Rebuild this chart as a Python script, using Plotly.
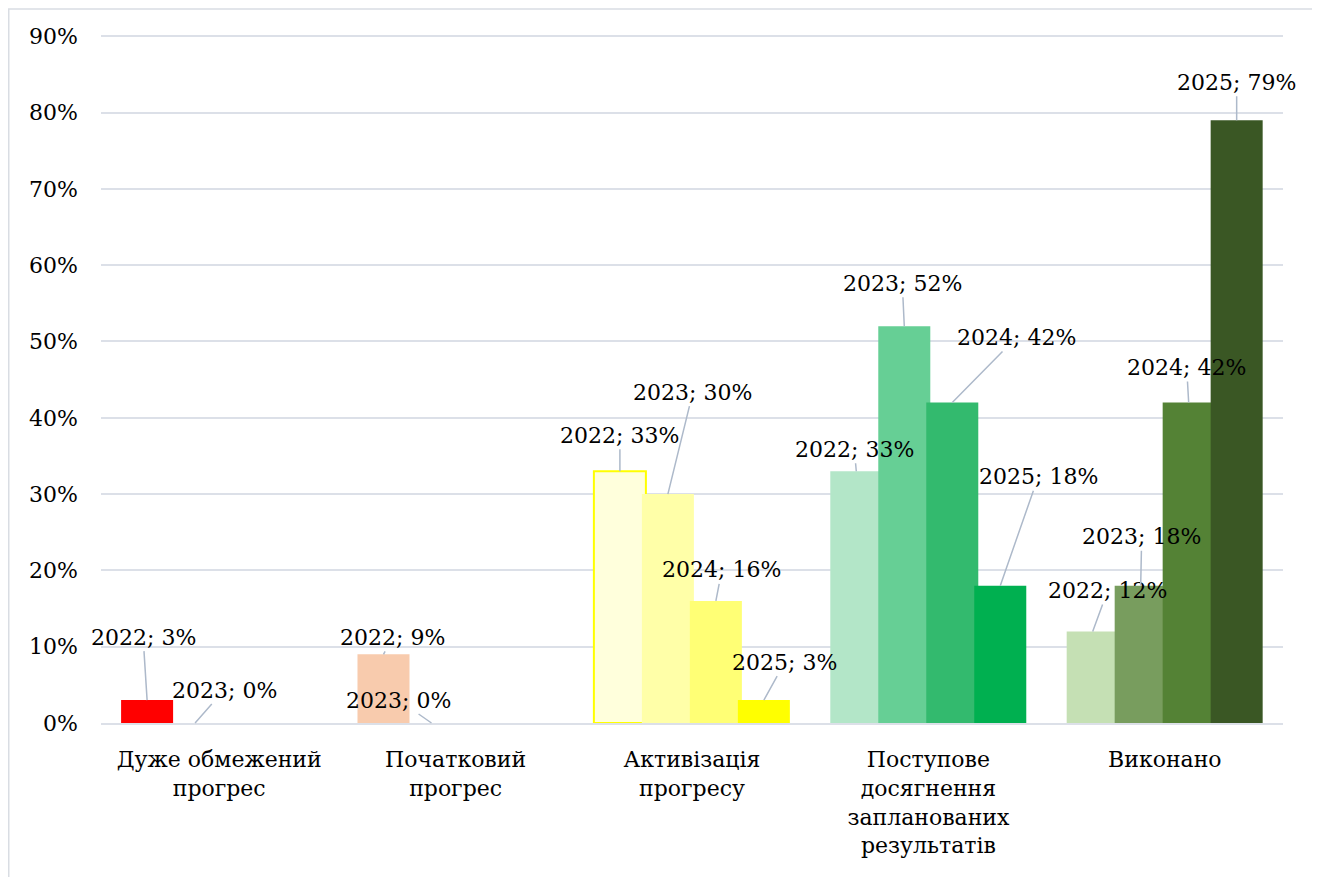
import plotly.graph_objects as go

# Categories and values (percent) per year
categories = [
    "Дуже обмежений<br>прогрес",
    "Початковий<br>прогрес",
    "Активізація<br>прогресу",
    "Поступове<br>досягнення<br>запланованих<br>результатів",
    "Виконано",
]
years = ["2022", "2023", "2024", "2025"]
values_2022 = [3, 9, 33, 33, 12]
values_2023 = [0, 0, 30, 52, 18]
values_2024 = [None, None, 16, 42, 42]
values_2025 = [None, None, 3, 18, 79]
series = [values_2022, values_2023, values_2024, values_2025]

# Bar colours: one per category, per year
colors_2022 = ["#FF0000", "#F8CBAD", "#FFFFDC", "#B3E6C8", "#C5E0B4"]
colors_2023 = ["#FF0000", "#F8CBAD", "#FFFFA8", "#66CF95", "#789D5E"]
colors_2024 = ["#FF0000", "#F8CBAD", "#FFFF75", "#33BA6E", "#548235"]
colors_2025 = ["#FF0000", "#F8CBAD", "#FFFF00", "#00B050", "#3A5724"]
colors = [colors_2022, colors_2023, colors_2024, colors_2025]

# Bar geometry in category units (Excel-style overlap)
bar_width = 0.22
bar_offsets = [-0.415, -0.212, -0.009, 0.194]

# Label offsets (text centre relative to bar top, px) per year, per category
label_dx = [
    [-4, 9, 0, -2, 15],
    [29, -33, 25, -2, 1],
    [0, 0, 6, 64, -2],
    [0, 0, 21, 38, 0],
]
label_dy = [
    [-63, -17, -36, -22, -41],
    [-33, -23, -102, -43, -49],
    [0, 0, -31, -65, -35],
    [0, 0, -38, -109, -38],
]

FONT = "DejaVu Serif"
GRID = "#DCE0E8"
LEADER = "#ADB9CA"

fig = go.Figure()
annotations = []

for k, year in enumerate(years):
    line_w = [2 if (k == 0 and i == 2) else 0 for i in range(len(categories))]
    line_c = ["#FFFF00" if (k == 0 and i == 2) else "rgba(0,0,0,0)" for i in range(len(categories))]
    fig.add_trace(go.Bar(
        x=categories,
        y=series[k],
        name=year,
        width=bar_width,
        offset=bar_offsets[k],
        marker=dict(color=colors[k], line=dict(color=line_c, width=line_w)),
        hovertemplate=year + ": %{y}%<extra></extra>",
    ))
    for i, v in enumerate(series[k]):
        if v is None:
            continue
        annotations.append(dict(
            x=i + bar_offsets[k] + bar_width / 2,
            y=v,
            xref="x", yref="y",
            text=f"{year}; {v}%",
            showarrow=True,
            arrowhead=0,
            arrowwidth=1.5,
            arrowcolor=LEADER,
            standoff=0,
            ax=label_dx[k][i],
            ay=label_dy[k][i],
            font=dict(family=FONT, size=22, color="#000000"),
        ))

# page body has an 8px margin, so figure coords = screen coords - 8
W, H = 1312, 869
y_top = 90.3
l, r = 93, W - 1275
t = 28 - (y_top - 90) * 7.633
b = H - 715
pw, ph = W - l - r, H - t - b

# Outer chart frame
fig.add_shape(
    type="rect", xref="paper", yref="paper",
    x0=(0.75 - l) / pw, x1=(1305 - l) / pw,
    y0=-0.5, y1=(H - b - 0.75) / ph,
    line=dict(color="#D9DDE3", width=1.5),
    fillcolor="rgba(0,0,0,0)", layer="below",
)

fig.update_layout(
    width=W,
    height=H,
    barmode="overlay",
    showlegend=False,
    plot_bgcolor="white",
    paper_bgcolor="white",
    margin=dict(l=l, r=r, t=t, b=b),
    font=dict(family=FONT, size=22, color="#000000"),
    annotations=annotations,
)

fig.update_xaxes(
    type="category",
    showgrid=False,
    showline=True,
    linecolor=GRID,
    linewidth=2,
    ticks="",
    ticklabelstandoff=16,
    tickfont=dict(family=FONT, size=22, color="#000000"),
    range=[-0.5, 4.5],
)

fig.update_yaxes(
    range=[0, y_top],
    dtick=10,
    ticksuffix="%",
    showgrid=True,
    gridcolor=GRID,
    gridwidth=2,
    zeroline=False,
    showline=False,
    ticklabelstandoff=22,
    tickfont=dict(family=FONT, size=22, color="#000000"),
)

fig.write_html("out.html")
